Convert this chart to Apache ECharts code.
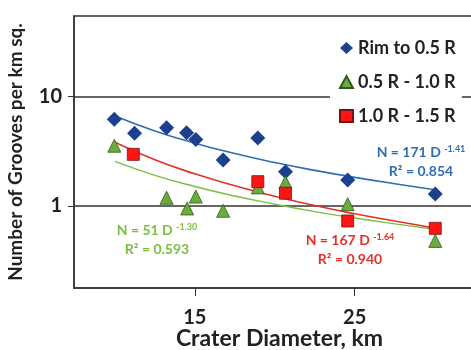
<!DOCTYPE html>
<html>
<head>
<meta charset="utf-8">
<script src="https://cdn.jsdelivr.net/npm/echarts@6/dist/echarts.min.js"></script>
<style>
  html, body { margin: 0; padding: 0; background: #fff; }
  #chart { width: 471px; height: 350px; }
</style>
</head>
<body>
<div id="chart"></div>
<script>
// measured points, crater diameter (km) / grooves per km sq.
var rimX = [9.96, 11.23, 13.23, 14.48, 15.06, 16.77, 18.94, 20.67, 24.56, 30.04]
var rimY = [6.21, 4.62, 5.21, 4.69, 4.07, 2.64, 4.19, 2.06, 1.73, 1.29]
var midX = [9.96, 13.23, 14.52, 15.06, 16.77, 18.94, 20.67, 24.56, 30.04]
var midY = [3.56, 1.19, 0.95, 1.22, 0.905, 1.48, 1.65, 1.04, 0.48]
var outX = [11.15, 18.94, 20.67, 24.56, 30.04]
var outY = [2.97, 1.67, 1.31, 0.73, 0.625]

// trend curves
var trendX = [10, 12.5, 15, 17.5, 20, 22.5, 25, 27.5, 30]
var rimTrend = [6.65, 4.86, 3.76, 3.02, 2.50, 2.12, 1.83, 1.60, 1.41]
var midTrend = [2.56, 1.91, 1.51, 1.235, 1.04, 0.89, 0.777, 0.687, 0.613]
var outTrend = [3.83, 2.65, 1.97, 1.53, 1.23, 1.01, 0.85, 0.73, 0.63]

var xTicks = [15, 25]
var yTicks = [1, 10]
var names = ['Rim to 0.5 R', '0.5 R - 1.0 R', '1.0 R - 1.5 R']

function pairs(xs, ys) {
  var out = []
  for (var i = 0; i < xs.length; i++) {
    out.push([xs[i], ys[i]])
  }
  return out
}

function fitLabel(x, y, color, main, sup, r2) {
  return [
    {
      type: 'text', x: x, y: y, z: 10,
      style: {
        text: '{a|' + main + '}{s|' + sup + '}', align: 'center', verticalAlign: 'middle',
        rich: {
          a: { fontSize: 14, fontWeight: 'bold', fill: color, fontFamily: 'Lato' },
          s: { fontSize: 9, fontWeight: 'bold', fill: color, fontFamily: 'Lato', verticalAlign: 'top', padding: [0, 0, 6, 0] }
        }
      }
    },
    {
      type: 'text', x: x, y: y + 19, z: 10,
      style: { text: r2, align: 'center', verticalAlign: 'middle', fill: color, font: 'bold 14px Lato' }
    }
  ]
}

var myChart = echarts.init(document.getElementById('chart'))
var font = 'Lato'
var option = {
  backgroundColor: '#fff',
  animation: false,
  textStyle: { fontFamily: font },
  grid: {
    left: 74,
    right: -2,
    top: 16,
    bottom: 62,
    outerBoundsMode: 'none',
    containLabel: false,
    show: true,
    borderColor: '#333',
    borderWidth: 1.5
  },
  legend: {
    data: names,
    orient: 'vertical',
    left: 330,
    top: 31,
    padding: [8, 6, 8, 9],
    itemGap: 16,
    itemWidth: 13,
    itemHeight: 12,
    backgroundColor: '#fff',
    textStyle: { fontSize: 18, fontWeight: 'bold', color: '#222', fontFamily: font }
  },
  xAxis: {
    type: 'value',
    min: 7.44,
    max: 32.4,
    name: 'Crater Diameter, km',
    nameLocation: 'middle',
    nameGap: 39,
    nameMoveOverlap: false,
    nameTextStyle: { fontSize: 23, fontWeight: 'bold', color: '#222', padding: [0, 0, 0, 12] },
    axisLine: { show: true, lineStyle: { color: '#333', width: 1.5 } },
    axisTick: { show: true, inside: false, length: 8, customValues: xTicks, lineStyle: { color: '#333' } },
    axisLabel: { customValues: xTicks, fontSize: 20, fontWeight: 'bold', color: '#222', margin: 20 },
    splitLine: { show: false }
  },
  yAxis: {
    type: 'log',
    logBase: 10,
    min: 0.178,
    max: 54.7,
    name: 'Number of Grooves per km sq.',
    nameLocation: 'middle',
    nameRotate: 90,
    nameGap: 49,
    nameMoveOverlap: false,
    nameTextStyle: { fontSize: 19, fontWeight: 'bold', color: '#222' },
    axisLine: { show: true, lineStyle: { color: '#333', width: 1.5 } },
    axisTick: { show: true, length: 6, customValues: yTicks, lineStyle: { color: '#333' } },
    axisLabel: { customValues: yTicks, fontSize: 20, fontWeight: 'bold', color: '#222', margin: 12 },
    splitLine: { show: true, customValues: yTicks, lineStyle: { color: '#333', width: 1.5 } }
  },
  graphic: [].concat(
    fitLabel(421, 152, '#2f6db5', 'N = 171 D ', '-1.41', 'R² = 0.854'),
    fitLabel(157, 230, '#7bbf3f', 'N = 51 D ', '-1.30', 'R² = 0.593'),
    fitLabel(350, 240, '#e3302a', 'N = 167 D ', '-1.64', 'R² = 0.940')
  ),
  series: [
    {
      type: 'line', data: pairs(trendX, rimTrend), smooth: true, showSymbol: false, z: 1,
      lineStyle: { color: '#2f6db5', width: 1.6 }, silent: true
    },
    {
      type: 'line', data: pairs(trendX, midTrend), smooth: true, showSymbol: false, z: 1,
      lineStyle: { color: '#7bbf3f', width: 1.4 }, silent: true
    },
    {
      type: 'line', data: pairs(trendX, outTrend), smooth: true, showSymbol: false, z: 1,
      lineStyle: { color: '#e3302a', width: 1.6 }, silent: true
    },
    {
      name: names[0], type: 'scatter', symbol: 'diamond', symbolSize: 15, z: 3,
      data: pairs(rimX, rimY),
      itemStyle: { color: '#1c3f8e', opacity: 1 }
    },
    {
      name: names[1], type: 'scatter', symbol: 'triangle', symbolSize: 13, z: 3,
      data: pairs(midX, midY),
      itemStyle: { color: '#6aad3d', borderColor: '#2e5a1c', borderWidth: 0.8, opacity: 1 }
    },
    {
      name: names[2], type: 'scatter', symbol: 'rect', symbolSize: 12, z: 3,
      data: pairs(outX, outY),
      itemStyle: { color: '#ff1414', borderColor: '#7a1010', borderWidth: 0.8, opacity: 1 }
    }
  ]
}
myChart.setOption(option, true)
window.addEventListener('resize', () => {
  myChart.resize()
})
</script>
</body>
</html>
